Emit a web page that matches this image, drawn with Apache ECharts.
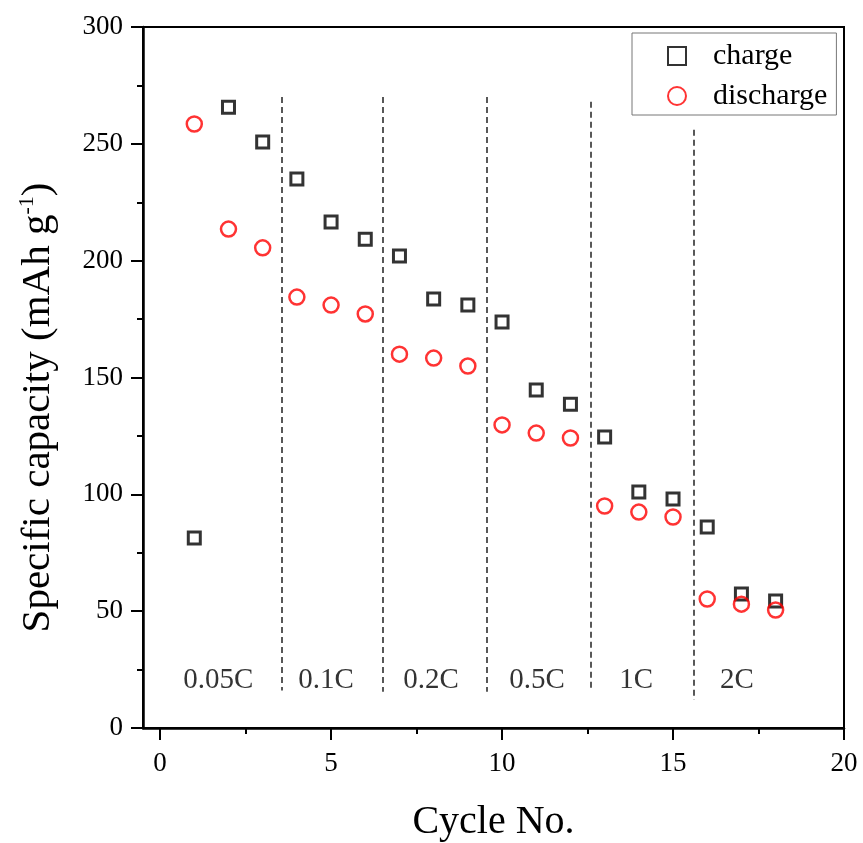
<!DOCTYPE html>
<html><head><meta charset="utf-8">
<script src="https://cdn.jsdelivr.net/npm/echarts@6/dist/echarts.min.js"></script>
<style>html,body{margin:0;padding:0;background:#fff}#c{width:863px;height:843px}</style>
</head><body><div id="c"></div>
<script>
const cycles = [1,2,3,4,5,6,7,8,9,10,11,12,13,14,15,16,17,18];
const charge = [81.3,265.7,250.8,234.9,216.5,209.2,202,183.6,181,173.7,144.6,138.6,124.5,101,98,86,57.3,54.3];
const discharge = [258.5,213.5,205.5,184.4,181,177.2,160,158.3,154.9,129.7,126.2,124.1,95,92.4,90.3,55.2,53,50.5];
const boundaryX = [3.55,6.5,9.55,12.6,15.6];
const boundaryTop = [270,270,270,268,256];
const boundaryBottom = [16,15.5,15.5,15.5,12];
const rateNames = ['0.05C','0.1C','0.2C','0.5C','1C','2C'];
const rateX = [1.7,4.85,7.92,11.02,13.92,16.87];
const rateY = [20.5,20.5,20.5,20.5,20.5,20.5];
const xMajor = [0,5,10,15,20];
const xMinor = [2.5,7.5,12.5,17.5];

const FONT = "'Liberation Serif','DejaVu Serif',serif";
const chart = echarts.init(document.getElementById('c'));
const gridTop = 27, gridBottom = 115, gridH = 843 - gridTop - gridBottom;
chart.setOption({
  animation: false,
  grid: {left: 143, right: 19, top: gridTop, bottom: gridBottom, containLabel: false, outerBoundsMode: 'none',
    show: true, borderColor: '#000', borderWidth: 2, backgroundColor: 'transparent'},
  legend: {
    orient: 'vertical', left: 632, top: 33,
    padding: [8, 9, 4, 35], itemGap: 10,
    itemWidth: 18, itemHeight: 18,
    borderColor: '#777', borderWidth: 1,
    textStyle: {fontFamily: FONT, fontSize: 30, color: '#000', lineHeight: 29, padding: [0,0,0,22]},
    data: ['charge','discharge']
  },
  xAxis: [{
    type: 'value', min: -0.5, max: 20, position: 'bottom',
    axisLine: {show: true, onZero: false, lineStyle: {color: '#000', width: 2.5}},
    axisTick: {show: true, customValues: xMajor, length: 12, lineStyle: {color: '#000', width: 2}},
    axisLabel: {customValues: xMajor, fontFamily: FONT, fontSize: 27, color: '#000', margin: 22},
    splitLine: {show: false},
    name: 'Cycle No.', nameLocation: 'middle', nameGap: 74,
    nameTextStyle: {fontFamily: FONT, fontSize: 40, color: '#000'}
  },{
    type: 'value', min: -0.5, max: 20, position: 'top', offset: -gridH,
    axisLine: {show: false},
    axisTick: {show: true, inside: true, customValues: xMinor, length: 6, lineStyle: {color: '#000', width: 2}},
    axisLabel: {show: false},
    splitLine: {show: false}
  }],
  yAxis: {
    type: 'value', min: 0, max: 300, interval: 50,
    axisLine: {show: true, onZero: false, lineStyle: {color: '#000', width: 2.5}},
    axisTick: {show: true, length: 12, lineStyle: {color: '#000', width: 2}},
    minorTick: {show: true, splitNumber: 2, length: 6, lineStyle: {color: '#000', width: 2}},
    axisLabel: {fontFamily: FONT, fontSize: 27, color: '#000', margin: 20},
    splitLine: {show: false},
    name: 'Specific capacity (mAh g{sup|-1})', nameLocation: 'middle', nameGap: 83, nameRotate: 90,
    nameTextStyle: {fontFamily: FONT, fontSize: 41, color: '#000', padding: [0, 60, 0, 0],
      rich: {sup: {fontFamily: FONT, fontSize: 22, color: '#000', verticalAlign: 'top', padding: [0,0,22,0]}}}
  },
  series: [{
    name: 'charge', type: 'scatter', xAxisIndex: 0,
    symbol: 'rect', symbolSize: 12,
    itemStyle: {color: 'rgba(0,0,0,0)', borderColor: '#000', borderWidth: 3},
    data: cycles.map((c,i) => [c, charge[i]]), z: 5
  },{
    name: 'discharge', type: 'scatter', xAxisIndex: 0,
    symbol: 'circle', symbolSize: 15,
    itemStyle: {color: 'rgba(0,0,0,0)', borderColor: '#ff0000', borderWidth: 2.5},
    data: cycles.map((c,i) => [c, discharge[i]]), z: 5
  },{
    name: 'rates', type: 'scatter', xAxisIndex: 0, symbolSize: 0, silent: true,
    data: rateNames.map((n,i) => ({name: n, value: [rateX[i], rateY[i]]})),
    label: {show: true, position: 'inside', formatter: p => p.name, fontFamily: FONT, fontSize: 29, color: '#000'},
    markLine: {
      silent: true, symbol: ['none','none'], label: {show: false},
      lineStyle: {color: '#222', width: 1.5, type: [6,4]},
      data: boundaryX.map((x,i) => [{coord: [x, boundaryTop[i]]}, {coord: [x, boundaryBottom[i]]}])
    }
  }]
});
</script></body></html>
